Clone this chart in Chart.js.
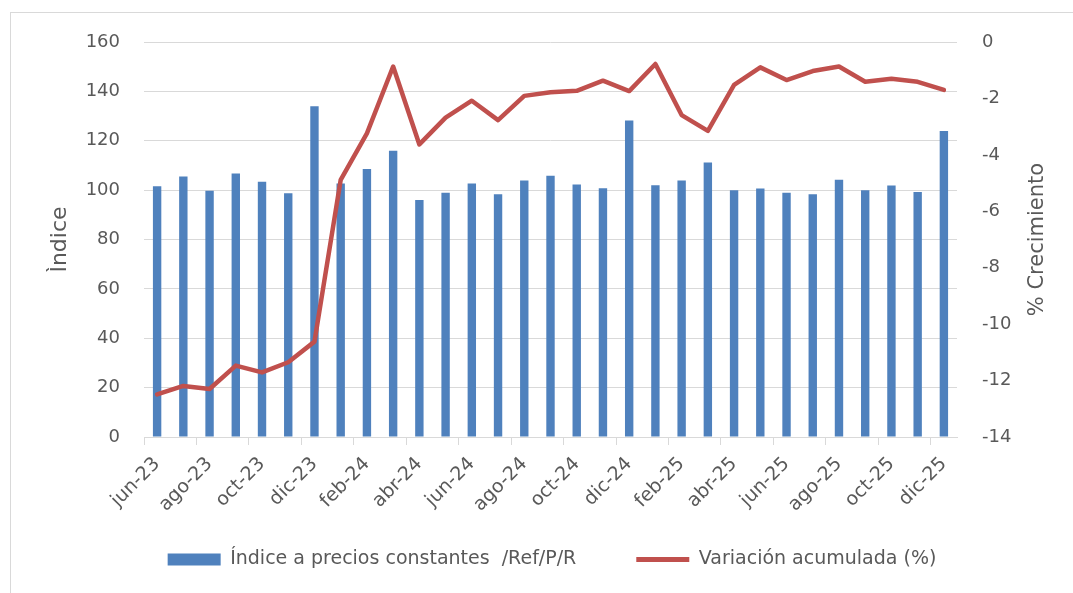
<!DOCTYPE html>
<html>
<head>
<meta charset="utf-8">
<script src="https://cdn.jsdelivr.net/npm/chart.js@4.4.1/dist/chart.umd.min.js"></script>
<style>
  html, body { margin: 0; padding: 0; background: #ffffff; }
  #wrap { position: relative; width: 1073px; height: 593px; }
</style>
</head>
<body>
<div id="wrap"><canvas id="c" width="1073" height="593"></canvas></div>
<script>
const categories = ['jun-23','jul-23','ago-23','sep-23','oct-23','nov-23','dic-23','ene-24','feb-24','mar-24','abr-24','may-24','jun-24','jul-24','ago-24','sep-24','oct-24','nov-24','dic-24','ene-25','feb-25','mar-25','abr-25','may-25','jun-25','jul-25','ago-25','sep-25','oct-25','nov-25','dic-25'];
const indiceValues = [101.6,105.5,99.7,106.7,103.4,98.7,134.0,102.7,108.6,115.9,96.0,98.9,102.7,98.3,103.9,105.8,102.3,100.8,128.2,102.0,103.9,111.2,99.9,100.7,98.9,98.3,104.2,99.9,101.9,99.2,123.9];
const variacionValues = [-12.49,-12.19,-12.30,-11.47,-11.71,-11.35,-10.62,-4.89,-3.24,-0.87,-3.63,-2.68,-2.08,-2.77,-1.91,-1.78,-1.73,-1.37,-1.74,-0.78,-2.59,-3.15,-1.52,-0.90,-1.35,-1.03,-0.87,-1.41,-1.30,-1.41,-1.70];
const seriesNames = ['Índice a precios constantes  /Ref/P/R', 'Variación acumulada (%)'];
const leftTitle = 'Ìndice';
const rightTitle = '% Crecimiento';

const FONT = '"DejaVu Sans", sans-serif';
const TXT = '#595959';
const GRID = '#d9d9d9';
const BLUE = '#4F81BD';
const RED = '#C0504D';

const framePlugin = {
  id: 'frame',
  beforeDraw(chart) {
    // let the rotated category labels extend below the (short) axis box
    if (chart.scales.x) chart.scales.x._computeLabelArea = () => undefined;
    const ctx = chart.ctx;
    ctx.save();
    ctx.strokeStyle = GRID;
    ctx.lineWidth = 1;
    ctx.strokeRect(10.5, 12.5, 1100, 620);
    ctx.restore();
  },
  afterDraw(chart) {
    const ctx = chart.ctx;
    const a = chart.chartArea;
    ctx.save();
    ctx.fillStyle = TXT;
    ctx.font = '21px ' + FONT;
    ctx.textAlign = 'center';
    ctx.textBaseline = 'middle';
    ctx.translate(1038, (a.top + a.bottom) / 2);
    ctx.rotate(-Math.PI / 2);
    ctx.fillText(rightTitle, 0, 0);
    ctx.restore();
  }
};

new Chart(document.getElementById('c'), {
  type: 'bar',
  data: {
    labels: categories,
    datasets: [
      {
        type: 'bar',
        label: seriesNames[0],
        data: indiceValues,
        backgroundColor: BLUE,
        borderWidth: 0,
        categoryPercentage: 1,
        barPercentage: 0.32,
        yAxisID: 'y',
        order: 1
      },
      {
        type: 'line',
        label: seriesNames[1],
        data: variacionValues,
        borderColor: RED,
        backgroundColor: RED,
        borderWidth: 4.5,
        pointRadius: 0,
        tension: 0,
        borderJoinStyle: 'round',
        borderCapStyle: 'round',
        yAxisID: 'y1',
        order: 0
      }
    ]
  },
  options: {
    responsive: false,
    animation: false,
    devicePixelRatio: 1,
    layout: { padding: { left: 31, right: 0, top: 42, bottom: 14 } },
    plugins: {
      tooltip: { enabled: false },
      legend: {
        position: 'bottom',
        labels: {
          color: TXT,
          font: { family: FONT, size: 19 },
          usePointStyle: true,
          pointStyleWidth: 53,
          boxHeight: 12,
          padding: 60,
          generateLabels(chart) {
            return chart.data.datasets.map((ds, i) => ({
              text: ds.label,
              fillStyle: i === 0 ? BLUE : RED,
              strokeStyle: i === 0 ? BLUE : RED,
              lineWidth: i === 0 ? 0 : 5,
              pointStyle: i === 0 ? 'rect' : 'line',
              fontColor: TXT,
              hidden: false,
              datasetIndex: i
            }));
          }
        }
      }
    },
    scales: {
      x: {
        offset: true,
        grid: {
          offset: true,
          drawOnChartArea: false,
          tickLength: 8,
          color: (ctx) => (ctx.index % 2 === 0 ? GRID : 'rgba(0,0,0,0)')
        },
        border: { color: GRID, width: 1 },
        ticks: {
          autoSkip: false,
          maxRotation: 45,
          minRotation: 45,
          color: TXT,
          font: { family: FONT, size: 19 },
          padding: 8,
          callback: function(v, i) { return i % 2 === 0 ? this.getLabelForValue(v) : ''; }
        },
        afterFit(s) { s.height = 53; }
      },
      y: {
        position: 'left',
        min: 0, max: 160,
        ticks: { stepSize: 20, color: TXT, font: { family: FONT, size: 18 }, padding: 24 },
        grid: { color: GRID, lineWidth: 1, drawTicks: false },
        border: { display: false },
        title: { display: true, text: leftTitle, color: TXT, font: { family: FONT, size: 22 }, padding: { top: 16, bottom: 0 } },
        afterFit(s) { s.width = 113; }
      },
      y1: {
        position: 'right',
        min: -14, max: 0,
        ticks: { stepSize: 2, color: TXT, font: { family: FONT, size: 18 }, padding: 25 },
        grid: { drawOnChartArea: false, drawTicks: false },
        border: { display: false },
        afterFit(s) { s.width = 116; }
      }
    }
  },
  plugins: [framePlugin]
});
</script>
</body>
</html>
